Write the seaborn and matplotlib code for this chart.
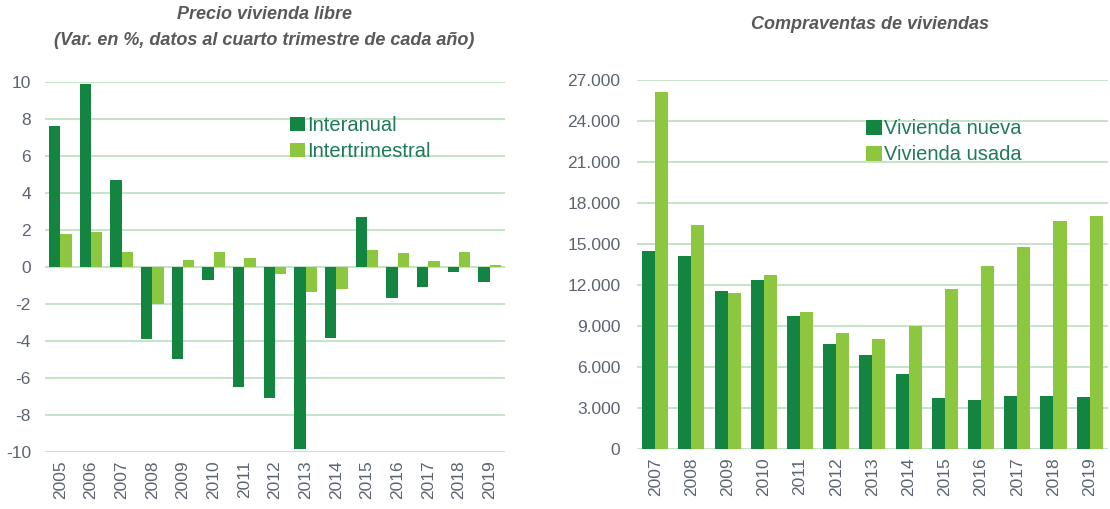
import matplotlib
matplotlib.use("Agg")
import matplotlib.pyplot as plt
import seaborn as sns
import pandas as pd

# Precio vivienda libre (var. %)
years_precio = [str(y) for y in range(2005, 2020)]
interanual = [7.6, 9.9, 4.7, -3.9, -5.0, -0.7, -6.5, -7.1, -9.85, -3.85, 2.7, -1.7, -1.1, -0.25, -0.8]
intertrimestral = [1.8, 1.9, 0.8, -2.0, 0.4, 0.8, 0.5, -0.4, -1.35, -1.2, 0.9, 0.75, 0.3, 0.8, 0.1]

# Compraventas de viviendas
years_compra = [str(y) for y in range(2007, 2020)]
vivienda_nueva = [14500, 14100, 11550, 12350, 9700, 7650, 6850, 5500, 3700, 3550, 3900, 3900, 3800]
vivienda_usada = [26100, 16400, 11400, 12750, 10050, 8500, 8050, 9000, 11700, 13350, 14800, 16700, 17050]
yticks_compra = [0, 3000, 6000, 9000, 12000, 15000, 18000, 21000, 24000, 27000]

DARK = "#138540"
LIGHT = "#8dc63f"
GRID = "#bfe0c2"
TICK = "#5d6470"
LEG = "#1f7a5a"
TITLE = "#595959"

sns.set_style("white")
plt.rcParams['font.family'] = ['Liberation Sans', 'DejaVu Sans']
plt.rcParams['axes.unicode_minus'] = False

fig = plt.figure(figsize=(11.1, 5.09), dpi=100)
ax1 = fig.add_axes([0.0405, 0.112, 0.4145, 0.727])
ax2 = fig.add_axes([0.574, 0.118, 0.424, 0.725])

df1 = pd.DataFrame({
    "year": years_precio * 2,
    "value": interanual + intertrimestral,
    "serie": ["Interanual"] * len(years_precio) + ["Intertrimestral"] * len(years_precio),
})
sns.barplot(data=df1, x="year", y="value", hue="serie", palette=[DARK, LIGHT],
            saturation=1, width=0.74, linewidth=0, ax=ax1, zorder=3)

df2 = pd.DataFrame({
    "year": years_compra * 2,
    "value": vivienda_nueva + vivienda_usada,
    "serie": ["Vivienda nueva"] * len(years_compra) + ["Vivienda usada"] * len(years_compra),
})
sns.barplot(data=df2, x="year", y="value", hue="serie", palette=[DARK, LIGHT],
            saturation=1, width=0.72, linewidth=0, ax=ax2, zorder=3)

ax1.set_ylim(-10, 10)
ax1.set_yticks(range(-10, 11, 2))
ax2.set_ylim(0, 27000)
ax2.set_yticks(yticks_compra)
ax2.set_yticklabels([f"{v:,}".replace(",", ".") for v in yticks_compra])

for ax in (ax1, ax2):
    ax.set_xlabel("")
    ax.set_ylabel("")
    for s in ax.spines.values():
        s.set_visible(False)
    ax.yaxis.grid(True, color=GRID, linewidth=1.3, zorder=0)
    ax.set_axisbelow(True)
    ax.tick_params(axis="x", rotation=90, labelsize=12.5, colors=TICK, length=0, pad=6)
    ax.tick_params(axis="y", labelsize=12.5, colors=TICK, length=0)

ax1.tick_params(axis="y", pad=10)
ax2.tick_params(axis="y", pad=12)

for ax, anchor in ((ax1, (0.515, 0.93)), (ax2, (0.47, 0.915))):
    leg = ax.legend(loc="upper left", bbox_to_anchor=anchor, frameon=False,
                    fontsize=14.5, handlelength=0.75, handleheight=0.75,
                    handletextpad=0.1, labelspacing=0.35, borderaxespad=0)
    for t in leg.get_texts():
        t.set_color(LEG)

title_font = ['Liberation Sans Narrow', 'Liberation Sans', 'DejaVu Sans']
fig.text(0.238, 0.972, "Precio vivienda libre", ha="center", va="center",
         fontsize=13, style="italic", fontweight="bold", color=TITLE, family=title_font)
fig.text(0.238, 0.921, "(Var. en %, datos al cuarto trimestre de cada año)", ha="center", va="center",
         fontsize=13, style="italic", fontweight="bold", color=TITLE, family=title_font)
fig.text(0.784, 0.951, "Compraventas de viviendas", ha="center", va="center",
         fontsize=13, style="italic", fontweight="bold", color=TITLE, family=title_font)

fig.savefig("out.png", dpi=100, facecolor="white")
